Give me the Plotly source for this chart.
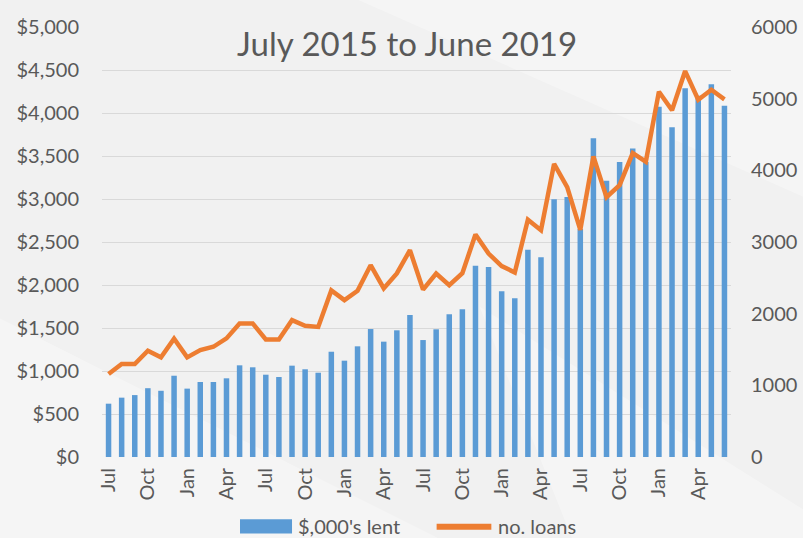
import plotly.graph_objects as go

months = ["Jul", "Aug", "Sep", "Oct", "Nov", "Dec", "Jan", "Feb", "Mar", "Apr", "May", "Jun"]
periods = []
for yr in range(2015, 2019):
    for i, m in enumerate(months):
        y = yr if i < 6 else yr + 1
        periods.append(f"{m} {y}")

lent = [620, 690, 720, 800, 770, 945, 795, 872, 872, 915, 1066, 1043,
        957, 930, 1062, 1020, 980, 1224, 1120, 1287, 1488, 1341, 1473, 1650,
        1360, 1485, 1660, 1717, 2225, 2209, 1927, 1847, 2410, 2322, 2996, 3023,
        2650, 3705, 3213, 3430, 3587, 3430, 4073, 3833, 4287, 4200, 4333, 4085]

loans = [1157, 1297, 1297, 1482, 1390, 1650, 1390, 1492, 1538, 1655, 1864, 1864,
         1641, 1641, 1910, 1830, 1815, 2325, 2189, 2319, 2677, 2352, 2561, 2886,
         2335, 2561, 2398, 2565, 3105, 2838, 2665, 2575, 3310, 3165, 4090, 3767,
         3170, 4195, 3625, 3793, 4240, 4120, 5097, 4838, 5385, 4985, 5125, 4990]

series_names = ["$,000's lent", "no. loans"]

tick_vals = periods[::3]
tick_text = [p.split()[0] for p in tick_vals]

left_ticks = [0, 500, 1000, 1500, 2000, 2500, 3000, 3500, 4000, 4500, 5000]
right_ticks = [0, 1000, 2000, 3000, 4000, 5000, 6000]

FONT = "Lato"
GREY = "#595959"
BG = "#f1f1f1"
BLUE = "#5B9BD5"
ORANGE = "#ED7D31"

fig = go.Figure()
fig.add_trace(go.Bar(x=periods, y=lent, name=series_names[0], showlegend=False,
                     marker=dict(color=BLUE, line=dict(width=0))))
fig.add_trace(go.Scatter(x=periods, y=loans, name=series_names[1], yaxis="y2",
                         showlegend=False, mode="lines",
                         line=dict(color=ORANGE, width=4.5)))

# custom legend (swatches + labels) below the plot area
legend_shapes = [
    dict(type="rect", xref="paper", yref="paper", x0=0.2194, x1=0.3021,
         y0=-0.178, y1=-0.145, fillcolor=BLUE, line=dict(width=0)),
    dict(type="line", xref="paper", yref="paper", x0=0.532, x1=0.619,
         y0=-0.162, y1=-0.162, line=dict(color=ORANGE, width=6)),
]
legend_texts = [
    dict(text=series_names[0], xref="paper", yref="paper", x=0.3085, y=-0.160,
         xanchor="left", yanchor="middle", showarrow=False,
         font=dict(size=20, color=GREY, family=FONT)),
    dict(text=series_names[1], xref="paper", yref="paper", x=0.6264, y=-0.160,
         xanchor="left", yanchor="middle", showarrow=False,
         font=dict(size=20, color=GREY, family=FONT)),
]

bg_shapes = [
    dict(type="path", xref="paper", yref="paper", layer="below",
         path="M 0.35 1.1 L 1.2 1.1 L 1.2 0.55 Z",
         fillcolor="rgba(255,255,255,0.3)", line=dict(width=0)),
    dict(type="path", xref="paper", yref="paper", layer="below",
         path="M -0.2 0.35 L 0.55 -0.2 L -0.2 -0.2 Z",
         fillcolor="rgba(255,255,255,0.3)", line=dict(width=0)),
    dict(type="path", xref="paper", yref="paper", layer="below",
         path="M 0.6 0.35 L 1.2 -0.2 L 0.75 -0.2 Z",
         fillcolor="rgba(255,255,255,0.3)", line=dict(width=0)),
]

fig.update_layout(
    width=803, height=538,
    margin=dict(l=102, r=72, t=27, b=81, autoexpand=False),
    paper_bgcolor=BG,
    plot_bgcolor="rgba(0,0,0,0)",
    bargap=0.58,
    showlegend=False,
    font=dict(family=FONT, color=GREY, size=20),
    title=dict(text="July 2015 to June 2019", x=0.507, xanchor="center",
               y=0.918, yanchor="middle", font=dict(size=33, color=GREY, family=FONT)),
    xaxis=dict(type="category", tickmode="array", tickvals=tick_vals, ticktext=tick_text,
               tickangle=-90, showgrid=False, showline=False, ticks="",
               automargin=False, ticklabelstandoff=6,
               tickfont=dict(size=20, color=GREY)),
    yaxis=dict(range=[0, 5000], tickvals=left_ticks, tickformat="$,.0f",
               showgrid=True, gridcolor="#d9d9d9", gridwidth=1.3, zeroline=False,
               showline=False, ticks="", ticklabelstandoff=22, automargin=False,
               tickfont=dict(size=20, color=GREY)),
    yaxis2=dict(range=[0, 6000], tickvals=right_ticks, tickformat="d",
                overlaying="y", side="right", showgrid=False, zeroline=False,
                showline=False, ticks="", ticklabelstandoff=19, automargin=False,
                tickfont=dict(size=20, color=GREY)),
    shapes=bg_shapes + legend_shapes,
    annotations=legend_texts,
)

fig.write_html("out.html",
               config={"displayModeBar": False},
               post_script="document.body.style.margin='0';"
                           "document.body.style.background='%s';" % BG)
